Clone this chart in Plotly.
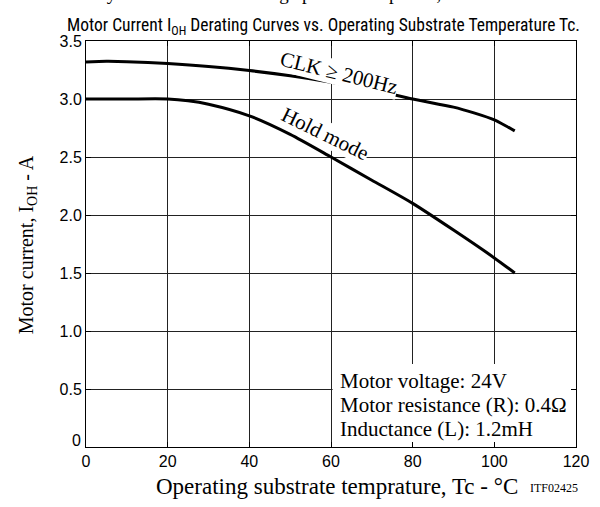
import plotly.graph_objects as go

# Derating curves: substrate temperature (°C) vs. motor current (A)
clk_temp = [0, 5, 10, 20, 30, 40, 50, 60, 70, 80, 90, 95, 100, 103, 105]
clk_current = [3.32, 3.325, 3.322, 3.305, 3.28, 3.245, 3.2, 3.145, 3.08, 3.0, 2.93, 2.88, 2.82, 2.765, 2.725]

hold_temp = [0, 10, 20, 25, 30, 40, 50, 60, 70, 80, 90, 100, 105]
hold_current = [3.0, 3.0, 3.0, 2.985, 2.955, 2.855, 2.695, 2.5, 2.3, 2.1, 1.87, 1.63, 1.5]

x_ticks = [0, 20, 40, 60, 80, 100, 120]
y_ticks = [0, 0.5, 1.0, 1.5, 2.0, 2.5, 3.0, 3.5]
y_tick_text = ["", "0.5", "1.0", "1.5", "2.0", "2.5", "3.0", "3.5"]

conditions = ["Motor voltage: 24V", "Motor resistance (R): 0.4Ω", "Inductance (L): 1.2mH"]

SERIF = "Liberation Serif, Times New Roman, serif"
SANS = "Liberation Sans, Arial, sans-serif"
NARROW = "Liberation Sans Narrow, Roboto Condensed, Liberation Sans, sans-serif"

fig = go.Figure()
fig.add_trace(go.Scatter(x=clk_temp, y=clk_current, mode="lines",
                         line=dict(color="black", width=3, shape="spline", smoothing=0.7),
                         hoverinfo="skip", showlegend=False))
fig.add_trace(go.Scatter(x=hold_temp, y=hold_current, mode="lines",
                         line=dict(color="black", width=3, shape="spline", smoothing=0.7),
                         hoverinfo="skip", showlegend=False))

# white panel behind the test conditions
fig.add_shape(type="rect", xref="x", yref="y", x0=60.4, x1=120, y0=0, y1=0.715,
              fillcolor="white", line=dict(width=0), layer="between")

annotations = [
    dict(text="CLK ≥ 200Hz", x=62, y=3.225, xref="x", yref="y", textangle=14,
         font=dict(family=SERIF, size=21, color="black"), showarrow=False,
         bgcolor="white", borderpad=0),
    dict(text="Hold mode", x=58.6, y=2.695, xref="x", yref="y", textangle=26,
         font=dict(family=SERIF, size=21, color="black"), showarrow=False,
         bgcolor="white", borderpad=0),
    dict(text="0", x=0, y=0, xref="paper", yref="y", xanchor="right", yanchor="bottom",
         xshift=-3, yshift=-4, font=dict(family=SANS, size=16, color="black"), showarrow=False),
    dict(text="Motor current, I<sub>OH</sub> - A", x=-0.12, y=0.4975, xref="paper", yref="paper",
         xanchor="center", yanchor="middle", textangle=-90,
         font=dict(family=SERIF, size=20, color="black"), showarrow=False),
    dict(text="Operating substrate temprature, Tc - °C", x=0.513, y=-0.0985,
         xref="paper", yref="paper", xanchor="center", yanchor="middle",
         font=dict(family=SERIF, size=23, color="black"), showarrow=False),
    dict(text="ITF02425", x=1.008, y=-0.101, xref="paper", yref="paper",
         xanchor="right", yanchor="middle",
         font=dict(family=SERIF, size=12, color="black"), showarrow=False),
    dict(text="Motor Current I<sub>OH</sub> Derating Curves vs. Operating Substrate Temperature Tc.",
         x=0.485, y=1, xref="paper", yref="paper", xanchor="center", yanchor="bottom", yshift=1,
         font=dict(family=NARROW, size=17.5, color="black"), showarrow=False),
    dict(text="Hybrid IC internal average power dissipation, Pd - W   ITF02425",
         x=0.52, y=1, xref="paper", yref="paper", xanchor="center", yanchor="bottom", yshift=35,
         font=dict(family=SERIF, size=19, color="black"), showarrow=False),
]

for i, line in enumerate(conditions):
    annotations.append(dict(text=line, x=61.7, y=0.569 - i * 0.207, xref="x", yref="y",
                            xanchor="left", yanchor="middle",
                            font=dict(family=SERIF, size=21, color="black"), showarrow=False))

fig.update_layout(
    width=600, height=507,
    margin=dict(l=86, r=24, t=41, b=60),
    paper_bgcolor="white", plot_bgcolor="white",
    annotations=annotations,
    xaxis=dict(range=[0, 120], tickvals=x_ticks, ticks="inside", ticklen=5,
               tickcolor="black", mirror="ticks", showline=True, linecolor="black",
               linewidth=1, showgrid=True, gridcolor="#222", gridwidth=1, zeroline=False,
               tickfont=dict(family=SANS, size=16, color="black")),
    yaxis=dict(range=[0, 3.5], tickvals=y_ticks, ticktext=y_tick_text, ticks="inside",
               ticklen=5, tickcolor="black", mirror="ticks", showline=True,
               linecolor="black", linewidth=1, showgrid=True, gridcolor="#222",
               gridwidth=1, zeroline=False,
               tickfont=dict(family=SANS, size=16, color="black")),
)

fig.write_html("out.html")
